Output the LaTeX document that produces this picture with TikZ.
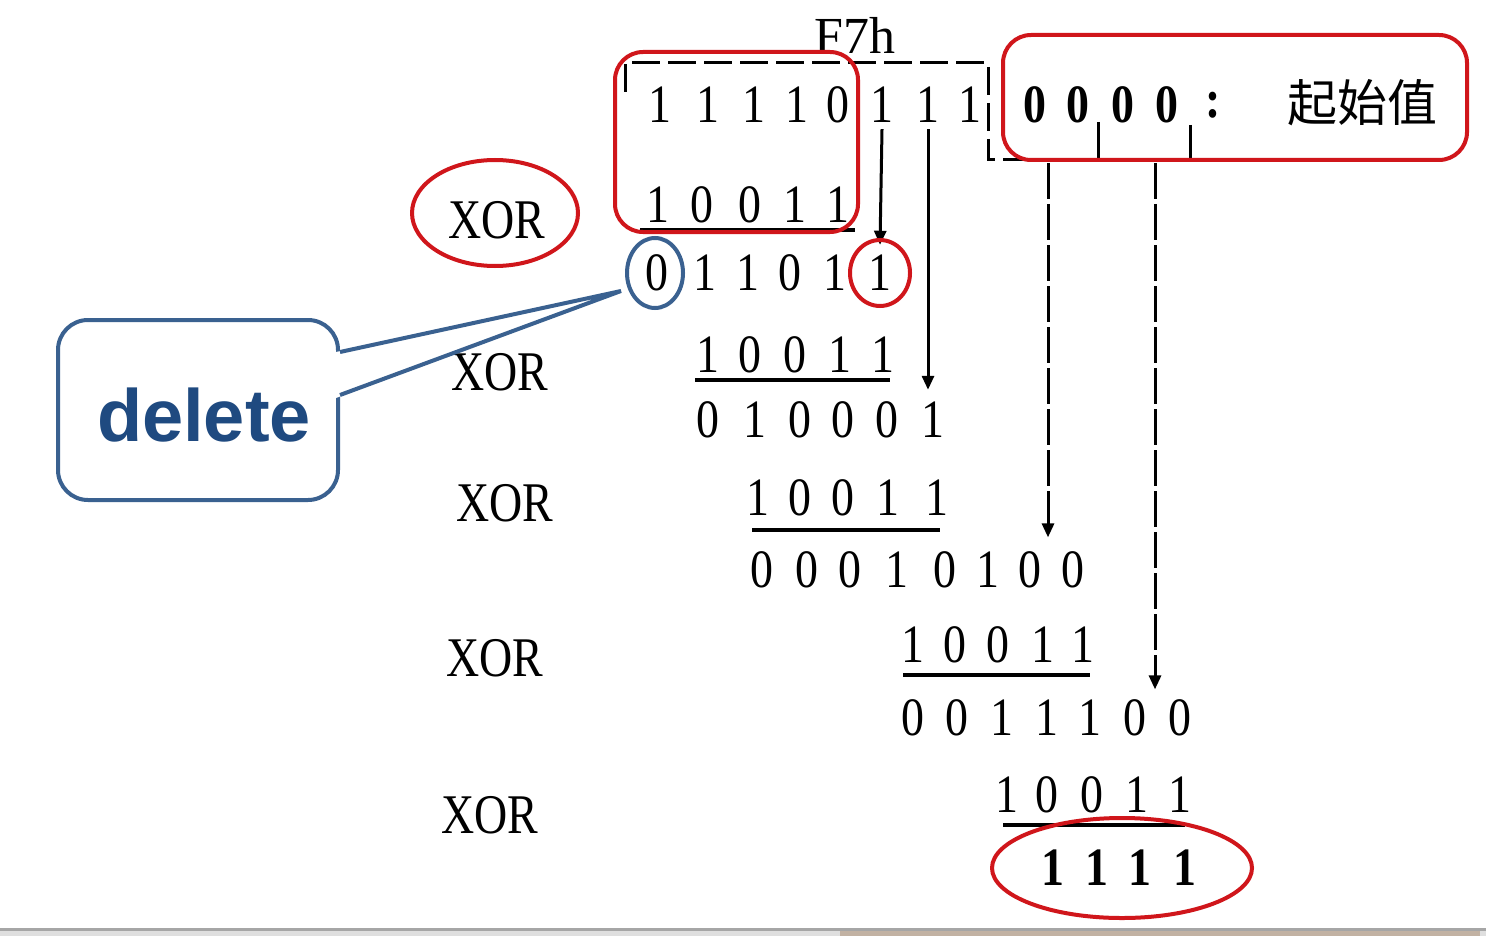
\documentclass[tikz,border=0pt]{standalone}
\usepackage{fontspec}
\setmainfont{Liberation Serif}
\newfontfamily\xorfont[FakeStretch=0.82]{Liberation Serif}
\newfontfamily\digfont[FakeStretch=0.85]{Liberation Serif}
\newfontfamily\cjkfont{Noto Sans CJK SC}
\newfontfamily\arialfont{Liberation Sans}
\usetikzlibrary{arrows.meta,shapes.geometric}
\definecolor{myred}{HTML}{D0161B}
\definecolor{calloutline}{HTML}{3A6190}
\definecolor{callouttext}{HTML}{1F4A80}
\tikzset{
  dig/.style={inner sep=0pt, font=\digfont\fontsize{27}{27}\selectfont},
  bdig/.style={inner sep=0pt, font=\digfont\fontsize{27}{27}\selectfont\bfseries},
  xorlbl/.style={inner sep=0pt, font=\xorfont\fontsize{28}{28}\selectfont},
  redbox/.style={draw=myred, line width=2pt, rounded corners=14pt, rectangle, inner sep=0pt},
  redring/.style={draw=myred, line width=2pt, ellipse, inner sep=0pt},
  bluering/.style={draw=calloutline, line width=2pt, ellipse, inner sep=0pt},
  uline/.style={line width=1.8pt},
  solidarr/.style={line width=1.5pt, -{Triangle[length=7pt,width=6pt]}},
  dasharr/.style={line width=1.5pt, dash pattern=on 18pt off 2.5pt, -{Triangle[length=7pt,width=6pt]}},
  brack/.style={line width=1.5pt, dash pattern=on 14pt off 4pt},
  callout/.style={draw=calloutline, line width=2pt, rounded corners=15pt, rectangle, fill=white,
    text=callouttext, font=\arialfont\bfseries\fontsize{37}{37}\selectfont, inner sep=0pt}
}
\begin{document}
\begin{tikzpicture}[x=0.5pt,y=-0.5pt]
\useasboundingbox (0,0) rectangle (1486,936);
\fill[white] (0,0) rectangle (1486,936);

% bottom screen strip
\fill[gray!25] (0,930) rectangle (1486,936);
\fill[brown!40!gray!60] (840,931) rectangle (1480,936);
\draw[gray!70, line width=1.2pt] (0,929.5) -- (1486,929.5);

% top label
\node[inner sep=0pt, font=\fontsize{26}{26}\selectfont] (f7h) at (855,35) {F7h};

% digits
\foreach \x/\d [count=\i] in {660/1,708/1,754/1,797/1,838/0,882/1,928/1,970/1}
  \node[dig] (t\i) at (\x,105) {\d};
\foreach \x/\d [count=\i] in {1035/0,1078/0,1123/0,1167/0}
  \node[bdig] (z\i) at (\x,105) {\d};
\node[bdig] (colon) at (1213,105) {:};
\node[inner sep=0pt, font=\cjkfont\fontsize{25}{25}\selectfont] (init) at (1362,103) {起始值};

\foreach \x/\d [count=\i] in {658/1,702/0,750/0,795/1,838/1}
  \node[dig] (ra\i) at (\x,205) {\d};
\foreach \x/\d [count=\i] in {657/0,705/1,748/1,790/0,835/1,880/1}
  \node[dig] (rb\i) at (\x,273) {\d};
\foreach \x/\d [count=\i] in {708/1,750/0,795/0,840/1,883/1}
  \node[dig] (rc\i) at (\x,355) {\d};
\foreach \x/\d [count=\i] in {708/0,755/1,800/0,843/0,887/0,933/1}
  \node[dig] (rd\i) at (\x,420) {\d};
\foreach \x/\d [count=\i] in {758/1,800/0,843/0,888/1,937/1}
  \node[dig] (re\i) at (\x,498) {\d};
\foreach \x/\d [count=\i] in {762/0,807/0,850/0,897/1,945/0,988/1,1030/0,1073/0}
  \node[dig] (rf\i) at (\x,570) {\d};
\foreach \x/\d [count=\i] in {913/1,955/0,998/0,1043/1,1083/1}
  \node[dig] (rg\i) at (\x,645) {\d};
\foreach \x/\d [count=\i] in {913/0,957/0,1002/1,1047/1,1090/1,1135/0,1180/0}
  \node[dig] (rh\i) at (\x,718) {\d};
\foreach \x/\d [count=\i] in {1007/1,1047/0,1092/0,1137/1,1180/1}
  \node[dig] (ri\i) at (\x,795) {\d};
\foreach \x/\d [count=\i] in {1053/1,1097/1,1140/1,1185/1}
  \node[bdig] (rj\i) at (\x,868) {\d};

% underlines
\draw[uline] (640,230) -- (855,230);
\draw[uline] (695,380) -- (890,380);
\draw[uline] (752,530) -- (940,530);
\draw[uline] (903,675) -- (1090,675);
\draw[uline] (1003,825) -- (1185,825);

% XOR labels
\node[xorlbl] (x1) at (497,220) {XOR};
\node[xorlbl] (x2) at (500,372) {XOR};
\node[xorlbl] (x3) at (505,503) {XOR};
\node[xorlbl] (x4) at (495,658) {XOR};
\node[xorlbl] (x5) at (490,815) {XOR};

% bracket
\coordinate (bL) at (625,92);
\coordinate (bTL) at (625,63);
\coordinate (bTR) at (988,63);
\coordinate (bBR) at (988,160);
\coordinate (bE) at (1190,160);
\draw[brack] (bL) -- (bTL) -- (bTR) -- (bBR) -- (bE);
\draw[line width=1.5pt] (1098,122) -- (1098,160);
\draw[line width=1.5pt] (1190,125) -- (bE);
\coordinate (d1) at (1048,163);
\coordinate (d2) at (1155,163);

% arrows
\draw[solidarr] ([yshift=-3pt]t6.south) -- ([yshift=5pt]rb6.north);
\draw[solidarr] ([yshift=-3pt]t7.south) -- ([yshift=6pt]t7.south |- rd6.north);
\draw[dasharr] (d1) -- ([yshift=7pt]d1 |- rf7.north);
\draw[dasharr] (d2) -- ([yshift=5pt]d2 |- rh7.north);

% red highlights
\node[redbox, minimum width=121.5pt, minimum height=90pt] (box1) at (736.5,142) {};
\node[redbox, minimum width=232pt, minimum height=62.5pt] (box2) at (1235,97.5) {};
\node[redring, minimum width=83pt, minimum height=53pt] (ring1) at (495,213) {};
\node[redring, minimum width=30pt, minimum height=33pt] (ring2) at (880,273) {};
\node[redring, minimum width=130pt, minimum height=50pt] (ring3) at (1122,868) {};
\node[bluering, minimum width=28pt, minimum height=35pt] (ring0) at (655,273) {};

% callout
\node[callout, minimum width=140pt, minimum height=90pt] (del) at (198,410) {};
\node[text=callouttext, font=\arialfont\bfseries\fontsize{37}{37}\selectfont, inner sep=0pt] (deltext) at (204,415) {delete};
\coordinate (tip) at ([xshift=-2pt,yshift=-9pt]ring0.west);
\fill[white] ([xshift=-2pt,yshift=29pt]del.east) -- (tip) -- ([xshift=-2pt,yshift=6pt]del.east) -- cycle;
\draw[calloutline, line width=2pt, line join=miter] ([yshift=29pt]del.east) -- (tip) -- ([yshift=7.5pt]del.east);
\end{tikzpicture}
\end{document}
